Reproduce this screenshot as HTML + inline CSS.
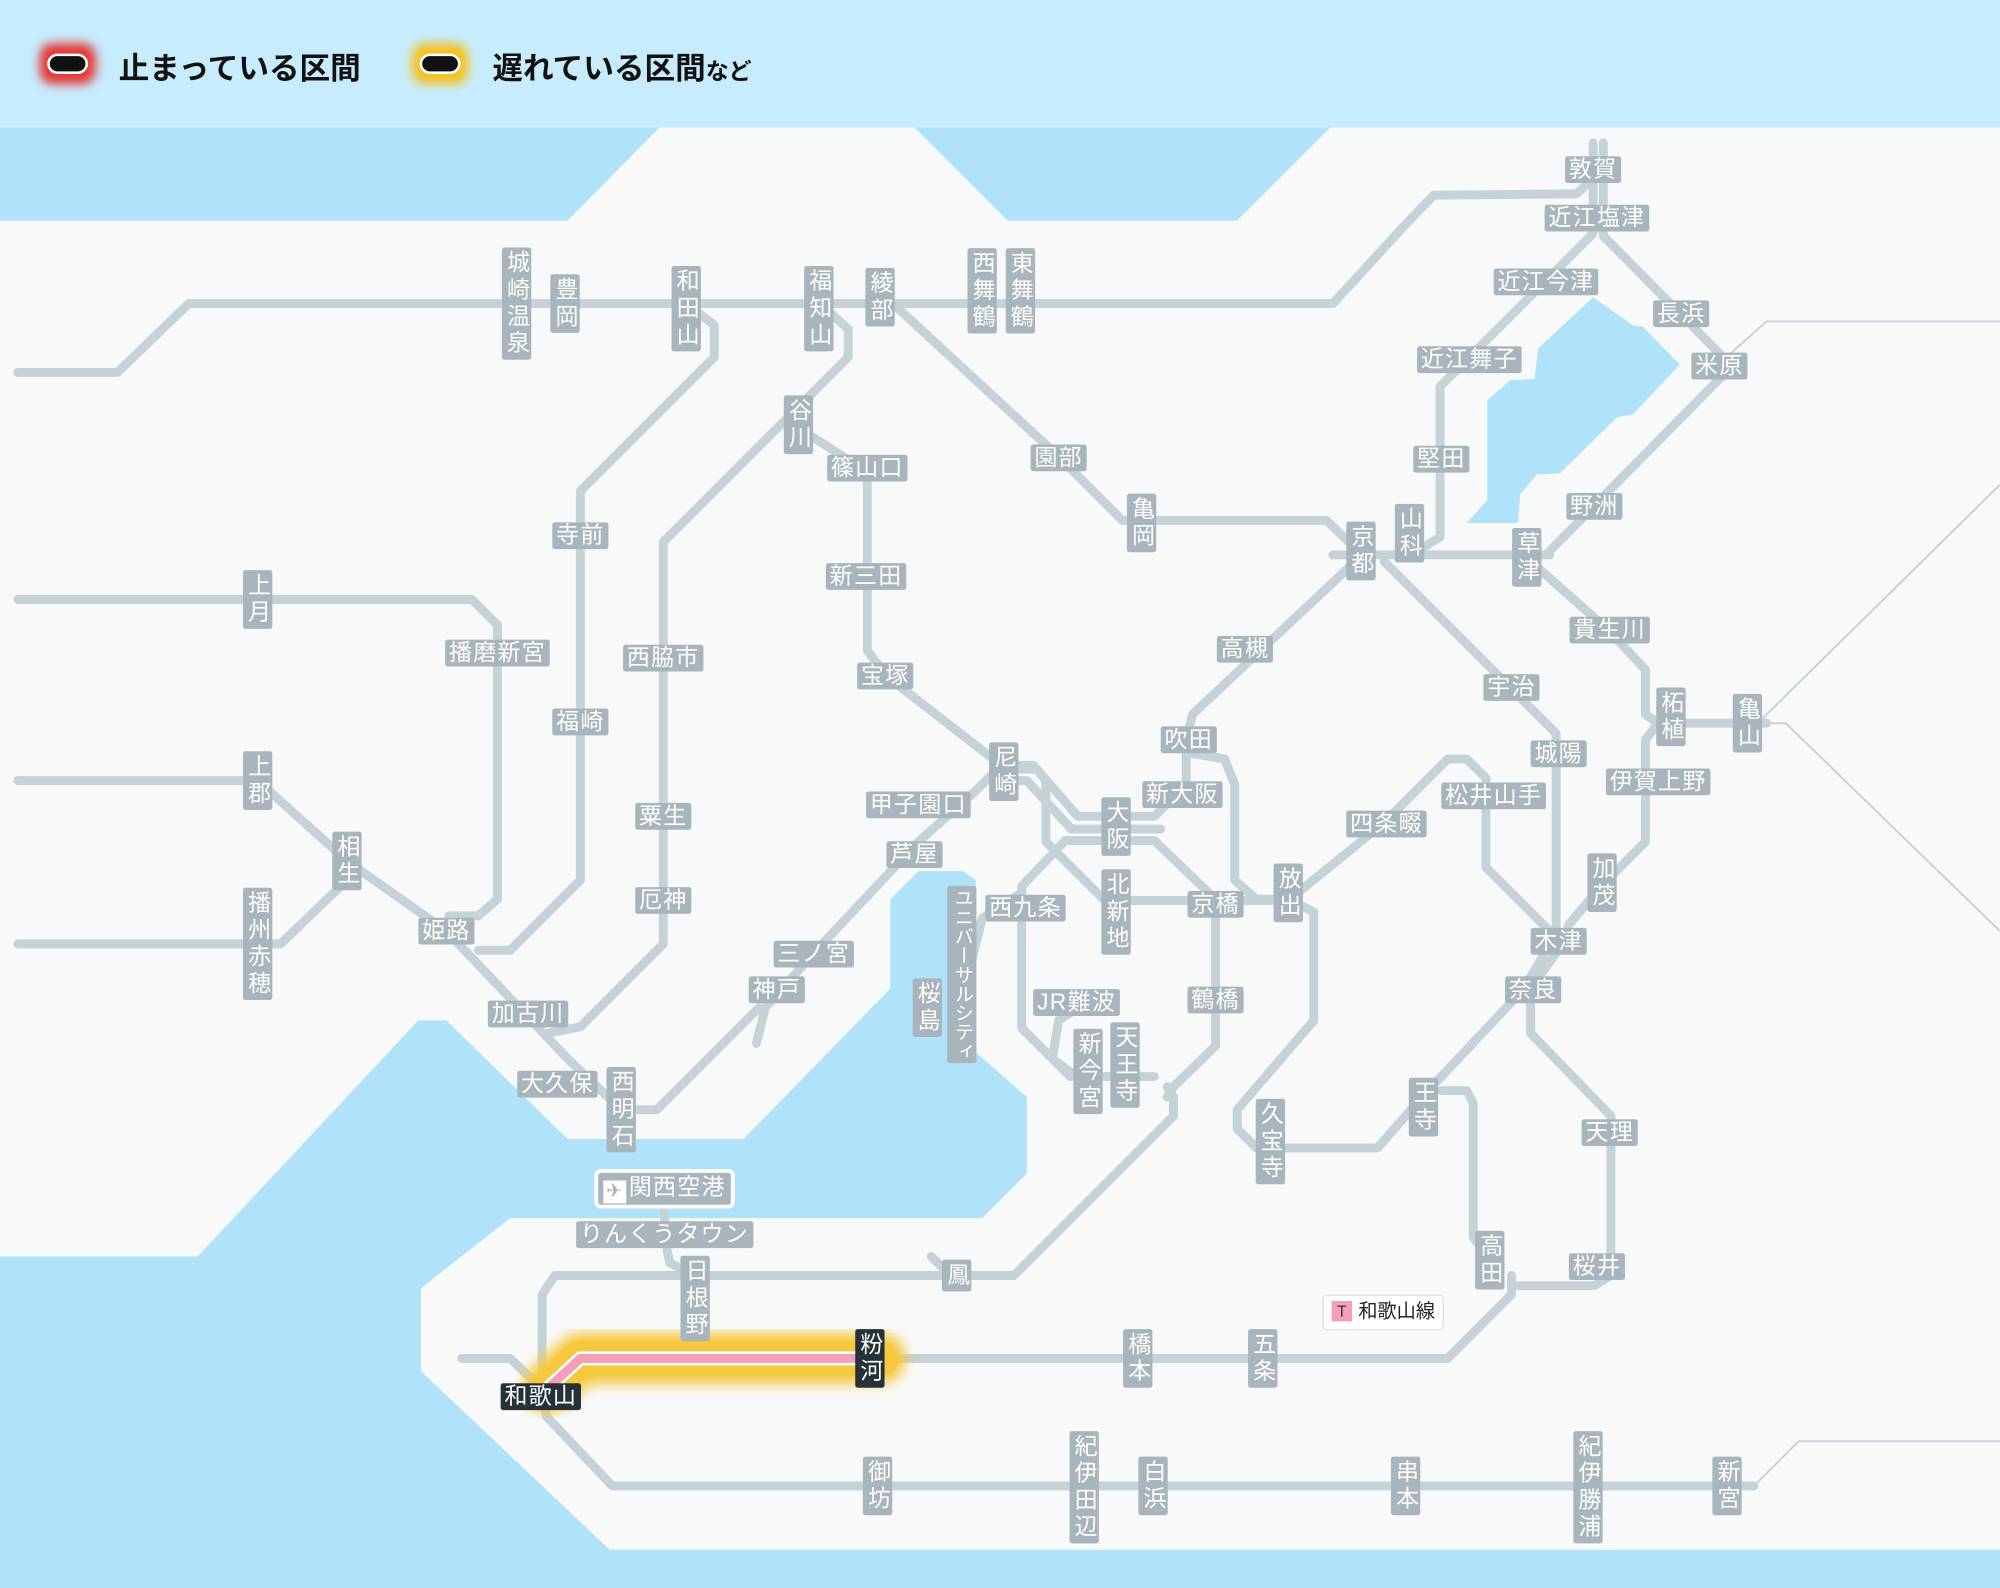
<!DOCTYPE html>
<html><head><meta charset="utf-8">
<style>
html,body{margin:0;padding:0;width:2000px;height:1588px;overflow:hidden;background:#b0e3f9}
#w{position:absolute;left:0;top:0;width:1568px;height:1245px;transform:scale(1.27551,1.27551);transform-origin:0 0;font-family:"Liberation Sans","Noto Sans CJK JP",sans-serif}
svg{position:absolute;left:0;top:0}
.l{position:absolute;transform:translate(-50%,-50%);background:#a8b5bc;color:#fff;font-size:18px;line-height:21px;padding:0 3px;border-radius:2px;white-space:nowrap;letter-spacing:1px}
.v{writing-mode:vertical-rl;text-orientation:upright;padding:2px 0;width:23px;line-height:23px;letter-spacing:3px;text-align:center}
.d{background:#263238}
.hd{position:absolute;font-weight:bold;font-size:24px;color:#111;top:34px}
</style></head><body>
<div id="w">
<svg width="1568" height="1245" viewBox="0 0 1568 1245">
<defs>
<filter id="g" x="-50%" y="-80%" width="200%" height="260%"><feGaussianBlur stdDeviation="4"/></filter>
<filter id="g2" x="-10%" y="-100%" width="120%" height="300%"><feGaussianBlur stdDeviation="5"/></filter>
</defs>
<rect x="0" y="0" width="1568" height="100" fill="#c6ecfd"/>
<polygon fill="#f8f9f9" points="0,173 445,173 517,100 717,100 790,173 970,173 1043,100 1568,100 1568,1215 478,1215 330,1075 330,1010 400,955 770,955 805,920 805,860 765,825 765,690 755,683 720,683 698,705 698,775 583,893 445,893 350,800 328,800 155,985 0,985"/>
<polygon fill="#b0e3f9" points="1249,233 1280,255 1288,256 1317,286 1280,325 1268,327 1223,371 1205,372 1192,387 1190,410 1150,410 1166,392 1166,314 1184,298 1203,297 1206,273"/>
<g fill="none" stroke="#c5d2d8" stroke-width="1.5">
<polyline points="1348,285 1385,252 1568,252"/>
<polyline points="1375,570 1568,380"/>
<polyline points="1385,567 1400,567 1568,730"/>
<polyline points="1360,1165 1375,1165 1410,1130 1568,1130"/>
</g>
<g fill="none" stroke="#c5d2d8" stroke-width="7" stroke-linejoin="round" stroke-linecap="round">
<polyline points="14,292 92,292 148,238 1045,238 1100,178 1124,153 1236,152 1249,140"/>
<polyline points="1249,112 1249,183 1129,303 1129,421 1113,431"/>
<polyline points="1257,112 1257,185 1348,277 1350,295 1213,434"/>
<polyline points="1045,435 1215,435"/>
<polyline points="700,238 830,358 880,408 1040,408 1068,435"/>
<polyline points="1068,435 935,560 930,580 930,615 905,640 845,640 810,600 785,600 765,620 720,660 640,745 600,790 593,818"/>
<polyline points="785,612 805,612 840,650 910,650"/>
<polyline points="595,790 515,870 487,870 445,830 350,730 272,675 202,612 14,612"/>
<polyline points="272,690 220,740 14,740"/>
<polyline points="14,470 370,470 390,490 390,705 375,718 352,718"/>
<polyline points="538,238 560,255 560,280 455,385 455,690 400,745 375,745"/>
<polyline points="645,240 665,258 665,280 625,320 520,425 520,740 455,805 430,810"/>
<polyline points="625,335 680,370 680,510 695,530 785,600"/>
<polyline points="1085,440 1220,575 1220,740"/>
<polyline points="1200,440 1262,495 1290,525 1290,560 1300,567 1385,567"/>
<polyline points="1300,567 1290,580 1290,660 1255,695 1230,725 1225,740 1200,775 1200,810 1263,875 1263,1000 1250,1008 1185,1008"/>
<polyline points="1215,740 1195,775 1115,860 1080,900 985,900 970,885 970,870 1030,800 1030,715 1010,705"/>
<polyline points="930,590 960,595 968,615 968,690 985,705 1010,705"/>
<polyline points="953,706 1010,706 1085,645 1135,595 1150,595 1165,610 1165,680 1220,735"/>
<polyline points="835,659 905,659 953,705 953,820 920,852 915,860"/>
<polyline points="835,659 801,695 801,806 839,844 905,844"/>
<polyline points="795,603 813,603 820,612 820,660 866,706 953,706"/>
<polyline points="801,700 770,720 760,760"/>
<polyline points="845,790 830,800 825,830 845,845"/>
<polyline points="915,852 920,860 920,875 795,1000 435,1000 425,1015 425,1090"/>
<polyline points="730,985 745,1000"/>
<polyline points="545,1000 525,990 521,970 521,932"/>
<polyline points="425,1090 455,1065 1135,1065 1185,1015 1185,1000"/>
<polyline points="1130,855 1150,855 1155,865 1155,970 1170,990"/>
<polyline points="362,1065 400,1065 428,1092 428,1110 480,1165 1375,1165"/>
</g>
<polyline points="430,1088 455,1065 690,1065" fill="none" stroke="#f4c93d" stroke-width="40" stroke-linejoin="round" stroke-linecap="round" filter="url(#g2)"/>
<polyline points="430,1088 455,1065 690,1065" fill="none" stroke="#f4c93d" stroke-width="28" stroke-linejoin="round" stroke-linecap="round"/>
<polyline points="430,1088 455,1065 690,1065" fill="none" stroke="#fff" stroke-width="11" stroke-linejoin="round"/>
<polyline points="430,1088 455,1065 690,1065" fill="none" stroke="#f59eb8" stroke-width="7" stroke-linejoin="round"/>
<rect x="31" y="34" width="44" height="32" rx="10" fill="#e53935" filter="url(#g)"/>
<rect x="38" y="43" width="30" height="14" rx="7" fill="#111" stroke="#fff" stroke-width="2"/>
<rect x="323" y="34" width="44" height="32" rx="10" fill="#f4c21d" filter="url(#g)"/>
<rect x="330" y="43" width="30" height="14" rx="7" fill="#111" stroke="#fff" stroke-width="2"/>
</svg>
<div class="hd" style="left:93px">止まっている区間</div>
<div class="hd" style="left:386px">遅れている区間<span style="font-size:18px">など</span></div>

<div class="l v" style="left:405px;top:238px">城崎温泉</div>
<div class="l v" style="left:443px;top:238px">豊岡</div>
<div class="l v" style="left:538px;top:242px">和田山</div>
<div class="l v" style="left:642px;top:242px">福知山</div>
<div class="l v" style="left:690px;top:233px">綾部</div>
<div class="l v" style="left:770px;top:228px">西舞鶴</div>
<div class="l v" style="left:800px;top:228px">東舞鶴</div>
<div class="l v" style="left:626px;top:333px">谷川</div>
<div class="l v" style="left:895px;top:410px">亀岡</div>
<div class="l v" style="left:1067px;top:432px">京都</div>
<div class="l v" style="left:1105px;top:418px">山科</div>
<div class="l v" style="left:1197px;top:437px">草津</div>
<div class="l v" style="left:202px;top:470px">上月</div>
<div class="l v" style="left:202px;top:612px">上郡</div>
<div class="l v" style="left:272px;top:675px">相生</div>
<div class="l v" style="left:202px;top:740px">播州赤穂</div>
<div class="l v" style="left:787px;top:605px">尼崎</div>
<div class="l v" style="left:875px;top:648px">大阪</div>
<div class="l v" style="left:875px;top:715px">北新地</div>
<div class="l v" style="left:1010px;top:700px">放出</div>
<div class="l v" style="left:754px;top:764px;font-size:15px;line-height:22px;letter-spacing:0">ユニバーサルシティ</div>
<div class="l v" style="left:727px;top:790px">桜島</div>
<div class="l v" style="left:853px;top:840px">新今宮</div>
<div class="l v" style="left:882px;top:835px">天王寺</div>
<div class="l v" style="left:996px;top:895px">久宝寺</div>
<div class="l v" style="left:1116px;top:868px">王寺</div>
<div class="l v" style="left:1310px;top:562px">柘植</div>
<div class="l v" style="left:1370px;top:567px">亀山</div>
<div class="l v" style="left:1256px;top:692px">加茂</div>
<div class="l v" style="left:487px;top:870px">西明石</div>
<div class="l v" style="left:1168px;top:988px">高田</div>
<div class="l v" style="left:545px;top:1018px">日根野</div>
<div class="l v" style="left:750px;top:1000px">鳳</div>
<div class="l v d" style="left:682px;top:1065px">粉河</div>
<div class="l v" style="left:892px;top:1065px">橋本</div>
<div class="l v" style="left:990px;top:1065px">五条</div>
<div class="l v" style="left:688px;top:1165px">御坊</div>
<div class="l v" style="left:850px;top:1166px">紀伊田辺</div>
<div class="l v" style="left:904px;top:1165px">白浜</div>
<div class="l v" style="left:1102px;top:1165px">串本</div>
<div class="l v" style="left:1245px;top:1166px">紀伊勝浦</div>
<div class="l v" style="left:1354px;top:1165px">新宮</div>

<div class="l" style="left:1249px;top:133px">敦賀</div>
<div class="l" style="left:1252px;top:171px">近江塩津</div>
<div class="l" style="left:1212px;top:221px">近江今津</div>
<div class="l" style="left:1318px;top:246px">長浜</div>
<div class="l" style="left:1152px;top:282px">近江舞子</div>
<div class="l" style="left:1348px;top:287px">米原</div>
<div class="l" style="left:680px;top:367px">篠山口</div>
<div class="l" style="left:830px;top:359px">園部</div>
<div class="l" style="left:1130px;top:360px">堅田</div>
<div class="l" style="left:1250px;top:397px">野洲</div>
<div class="l" style="left:455px;top:420px">寺前</div>
<div class="l" style="left:679px;top:452px">新三田</div>
<div class="l" style="left:976px;top:509px">高槻</div>
<div class="l" style="left:1262px;top:494px">貴生川</div>
<div class="l" style="left:390px;top:512px">播磨新宮</div>
<div class="l" style="left:520px;top:516px">西脇市</div>
<div class="l" style="left:694px;top:530px">宝塚</div>
<div class="l" style="left:1185px;top:539px">宇治</div>
<div class="l" style="left:455px;top:566px">福崎</div>
<div class="l" style="left:932px;top:580px">吹田</div>
<div class="l" style="left:1222px;top:591px">城陽</div>
<div class="l" style="left:720px;top:631px">甲子園口</div>
<div class="l" style="left:927px;top:623px">新大阪</div>
<div class="l" style="left:1171px;top:624px">松井山手</div>
<div class="l" style="left:1300px;top:613px">伊賀上野</div>
<div class="l" style="left:520px;top:640px">粟生</div>
<div class="l" style="left:1087px;top:646px">四条畷</div>
<div class="l" style="left:717px;top:670px">芦屋</div>
<div class="l" style="left:520px;top:706px">厄神</div>
<div class="l" style="left:804px;top:712px">西九条</div>
<div class="l" style="left:953px;top:709px">京橋</div>
<div class="l" style="left:350px;top:730px">姫路</div>
<div class="l" style="left:1222px;top:738px">木津</div>
<div class="l" style="left:638px;top:748px">三ノ宮</div>
<div class="l" style="left:609px;top:776px">神戸</div>
<div class="l" style="left:1202px;top:776px">奈良</div>
<div class="l" style="left:844px;top:786px">JR難波</div>
<div class="l" style="left:953px;top:784px">鶴橋</div>
<div class="l" style="left:414px;top:795px">加古川</div>
<div class="l" style="left:437px;top:850px">大久保</div>
<div class="l" style="left:1262px;top:888px">天理</div>
<div class="l" style="left:521px;top:932px;border:3px solid #fff;border-radius:5px;padding:1px 4px"><span style="display:inline-block;background:#fff;color:#a8b5bc;width:18px;height:18px;line-height:18px;text-align:center;font-size:15px;vertical-align:-2px;margin-right:2px">✈</span>関西空港</div>
<div class="l" style="left:521px;top:968px">りんくうタウン</div>
<div class="l" style="left:1252px;top:993px">桜井</div>
<div class="l d" style="left:424px;top:1095px">和歌山</div>
<div style="position:absolute;left:1037px;top:1015px;height:26px;padding:0 6px;background:#fff;border:1px solid #dde3e6;border-radius:3px;font-size:15px;line-height:26px;color:#222;white-space:nowrap"><span style="display:inline-block;background:#f59eb8;color:#333;width:16px;height:16px;line-height:16px;text-align:center;font-size:12px;margin-right:5px;vertical-align:1px">T</span>和歌山線</div>
</div>
</body></html>
